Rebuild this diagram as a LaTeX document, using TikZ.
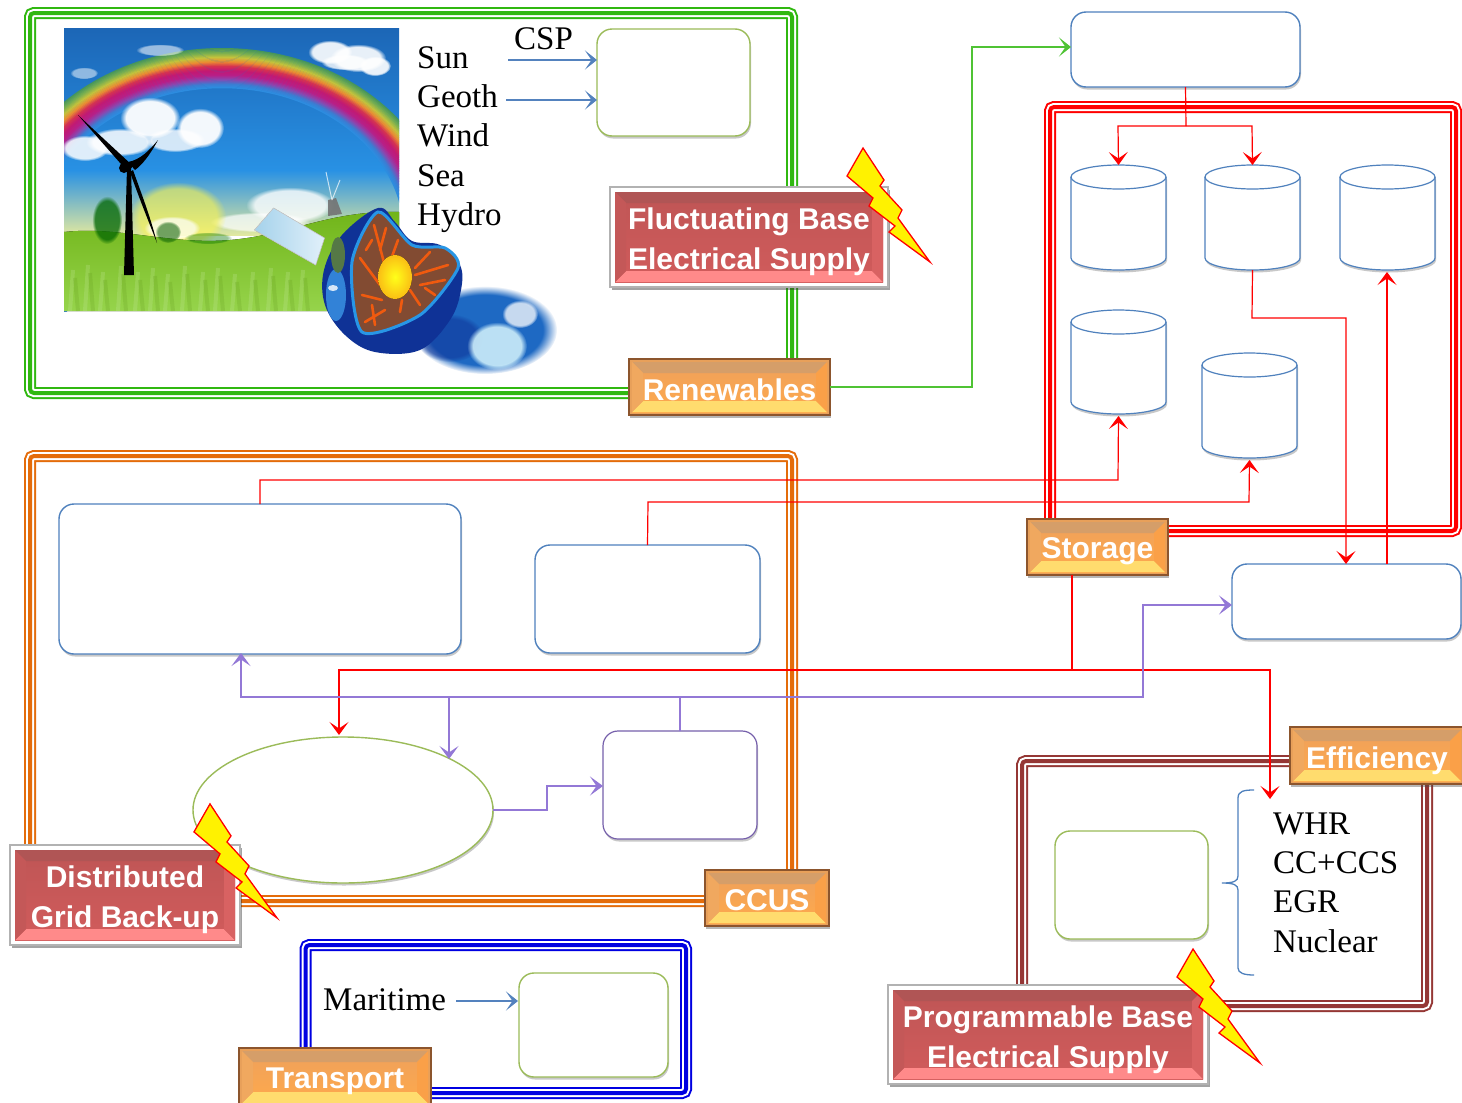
\documentclass[tikz,border=0pt]{standalone}
\usepackage{fontspec}
\setmainfont{Liberation Serif}
\newfontfamily\lblfont{Liberation Sans}[BoldFont={Liberation Sans Bold}]
\usetikzlibrary{arrows.meta,shadows,shapes.geometric,calc,fadings}
\definecolor{cblue}{RGB}{79,129,189}
\definecolor{cgreen}{RGB}{155,187,89}
\definecolor{cpurple}{RGB}{147,120,214}
\definecolor{cbrown}{RGB}{149,55,53}
\definecolor{corange}{RGB}{228,108,10}
\definecolor{cgrn}{RGB}{48,184,16}
\definecolor{cfrblue}{RGB}{0,0,225}
\definecolor{lnblue}{RGB}{84,130,190}
\definecolor{rda}{RGB}{190,85,85}
\definecolor{rdb}{RGB}{210,92,92}
\definecolor{rdc}{RGB}{255,138,138}
\definecolor{rdd}{RGB}{176,85,85}
\definecolor{rde}{RGB}{196,88,88}
\definecolor{rdf}{RGB}{216,98,98}
\definecolor{ora}{RGB}{140,85,45}
\definecolor{orb}{RGB}{232,160,90}
\definecolor{orc}{RGB}{238,160,92}
\definecolor{ord}{RGB}{255,170,75}
\definecolor{ore}{RGB}{255,220,110}
\definecolor{orf}{RGB}{213,158,105}
\definecolor{org}{RGB}{240,168,95}
\definecolor{orh}{RGB}{250,160,72}
\definecolor{skya}{RGB}{28,102,182}
\definecolor{skyb}{RGB}{40,145,228}
\definecolor{skyc}{RGB}{225,232,160}
\definecolor{hila}{RGB}{112,180,25}
\definecolor{hilb}{RGB}{150,212,75}
\definecolor{wva}{RGB}{30,105,195}
\definecolor{wvb}{RGB}{205,238,250}
\definecolor{wvc}{RGB}{60,150,225}
\definecolor{pna}{RGB}{165,210,235}
\definecolor{pnb}{RGB}{225,240,250}
\definecolor{eaa}{RGB}{15,50,150}
\definecolor{eab}{RGB}{50,130,215}
\definecolor{eac}{RGB}{85,120,70}
\definecolor{ead}{RGB}{40,150,230}
\definecolor{eae}{RGB}{130,75,50}
\definecolor{eaf}{RGB}{240,90,15}
\definecolor{eag}{RGB}{250,190,20}
\definecolor{rba}{RGB}{70,150,90}
\definecolor{rbb}{RGB}{120,175,80}
\definecolor{rbc}{RGB}{195,195,60}
\definecolor{rbd}{RGB}{235,140,50}
\definecolor{rbe}{RGB}{215,50,80}
\definecolor{rbf}{RGB}{195,25,115}
\definecolor{rbg}{RGB}{185,30,135}
\definecolor{rbh}{RGB}{140,70,175}
\definecolor{rbi}{RGB}{60,125,210}
\tikzset{
 shd/.style={drop shadow={shadow xshift=1pt,shadow yshift=-2.5pt,opacity=.3,fill=black!70}},
 bbox/.style={draw=cblue,fill=white,line width=1.4pt,rounded corners=15pt,shd},
 gbox/.style={draw=cgreen,fill=white,line width=1.4pt,rounded corners=15pt,shd},
 pbox/.style={draw=cpurple!80!black,fill=white,line width=1.2pt,rounded corners=15pt,shd},
 drumline/.style={draw=cblue,line width=1.2pt},
 anchorbox/.style={},
 redtip/.style={-{Stealth[length=13pt,width=19pt,inset=6.5pt]}},
 redln/.style={draw=red,line width=1.2pt,line join=miter},
 purln/.style={draw=cpurple,line width=1.3pt},
 bluln/.style={draw=lnblue,line width=1.5pt,-{Stealth[length=12pt,width=19pt,inset=6.5pt]}},
 grnln/.style={draw=cgrn!85!white,line width=1.3pt,-{Stealth[length=12pt,width=19pt,inset=6.5pt]}},
 purtip/.style={-{Stealth[length=13pt,width=19pt,inset=6.5pt]}},
 txt/.style={anchor=base west,inner sep=0pt,font=\fontsize{33}{40}\selectfont},
 lbl/.style={text=white,align=center,font=\lblfont\bfseries\fontsize{30}{40}\selectfont},
 redlabel/.style={lbl,draw=gray!60,line width=1.5pt,fill=white,
  drop shadow={shadow xshift=1.5pt,shadow yshift=-2.5pt,opacity=.45,fill=black!80},
  path picture={
   \fill[top color=rda,bottom color=rdb]
     ([xshift=5pt,yshift=-5pt]path picture bounding box.north west) rectangle ([xshift=-5pt,yshift=5pt]path picture bounding box.south east);
   \fill[rdc]
     ([xshift=5pt,yshift=5pt]path picture bounding box.south west) -- ([xshift=-5pt,yshift=5pt]path picture bounding box.south east) -- ([xshift=-16pt,yshift=16pt]path picture bounding box.south east) -- ([xshift=16pt,yshift=16pt]path picture bounding box.south west) -- cycle;
   \fill[rdd]
     ([xshift=5pt,yshift=-5pt]path picture bounding box.north west) -- ([xshift=-5pt,yshift=-5pt]path picture bounding box.north east) -- ([xshift=-16pt,yshift=-16pt]path picture bounding box.north east) -- ([xshift=16pt,yshift=-16pt]path picture bounding box.north west) -- cycle;
   \fill[rde]
     ([xshift=5pt,yshift=-5pt]path picture bounding box.north west) -- ([xshift=16pt,yshift=-16pt]path picture bounding box.north west) -- ([xshift=16pt,yshift=16pt]path picture bounding box.south west) -- ([xshift=5pt,yshift=5pt]path picture bounding box.south west) -- cycle;
   \fill[rdf]
     ([xshift=-5pt,yshift=-5pt]path picture bounding box.north east) -- ([xshift=-16pt,yshift=-16pt]path picture bounding box.north east) -- ([xshift=-16pt,yshift=16pt]path picture bounding box.south east) -- ([xshift=-5pt,yshift=5pt]path picture bounding box.south east) -- cycle;
   \draw[gray!70!black,line width=2pt] (path picture bounding box.north east) -- (path picture bounding box.south east);
  }},
 orangelabel/.style={lbl,draw=ora,line width=1.5pt,fill=orb,
  drop shadow={shadow xshift=1pt,shadow yshift=-2.5pt,opacity=.4,fill=black!70},
  path picture={
   \fill[top color=orc,bottom color=ord]
     ([xshift=3pt,yshift=-3pt]path picture bounding box.north west) rectangle ([xshift=-3pt,yshift=3pt]path picture bounding box.south east);
   \fill[ore]
     ([xshift=3pt,yshift=3pt]path picture bounding box.south west) -- ([xshift=-3pt,yshift=3pt]path picture bounding box.south east) -- ([xshift=-14pt,yshift=14pt]path picture bounding box.south east) -- ([xshift=14pt,yshift=14pt]path picture bounding box.south west) -- cycle;
   \fill[orf]
     ([xshift=3pt,yshift=-3pt]path picture bounding box.north west) -- ([xshift=-3pt,yshift=-3pt]path picture bounding box.north east) -- ([xshift=-14pt,yshift=-14pt]path picture bounding box.north east) -- ([xshift=14pt,yshift=-14pt]path picture bounding box.north west) -- cycle;
   \fill[org]
     ([xshift=3pt,yshift=-3pt]path picture bounding box.north west) -- ([xshift=14pt,yshift=-14pt]path picture bounding box.north west) -- ([xshift=14pt,yshift=14pt]path picture bounding box.south west) -- ([xshift=3pt,yshift=3pt]path picture bounding box.south west) -- cycle;
   \fill[orh]
     ([xshift=-3pt,yshift=-3pt]path picture bounding box.north east) -- ([xshift=-14pt,yshift=-14pt]path picture bounding box.north east) -- ([xshift=-14pt,yshift=14pt]path picture bounding box.south east) -- ([xshift=-3pt,yshift=3pt]path picture bounding box.south east) -- cycle;
  }},
 pics/zap/.style={code={
   \filldraw[fill=yellow,draw=red,line width=1.3pt,line join=miter]
    (0,0) -- (21,32) -- (17,38) -- (39,62) -- (35,70) -- (67,114) -- (26,84) -- (32,78) -- (6,58) -- (10,50) -- (-16,28) -- cycle;
 }},
}
\newcommand\bx[7]{%
 \pgfmathsetmacro\mycx{(#2+#4)/2}\pgfmathsetmacro\mycy{(#3+#5)/2}%
 \pgfmathsetmacro\mybw{#4-#2}\pgfmathsetmacro\mybh{#5-#3}%
 \node[#6,minimum width=\mybw pt,minimum height=\mybh pt,inner sep=0pt,outer sep=0pt] (#1) at (\mycx,\mycy) {#7};}
\newcommand\triframe[5]{%
 \draw[#5,line width=12pt,rounded corners=4pt] (#1,#2) rectangle (#3,#4);
 \draw[white,line width=8pt,rounded corners=4pt] (#1,#2) rectangle (#3,#4);
 \draw[#5,line width=4pt,rounded corners=4pt] (#1,#2) rectangle (#3,#4);}
\newcommand\drum[4]{%
 \pgfmathsetmacro\dra{#2+95}\pgfmathsetmacro\drb{#3+12}\pgfmathsetmacro\drc{#4-12}%
 \draw[drumline,fill=white,shd] (#2,\drb) arc[start angle=180,end angle=0,x radius=47.5pt,y radius=12pt] -- (\dra,\drc) arc[start angle=0,end angle=-180,x radius=47.5pt,y radius=12pt] -- cycle;
 \draw[drumline] (#2,\drb) arc[start angle=180,end angle=360,x radius=47.5pt,y radius=12pt];
 \bx{#1}{#2}{#3}{\dra}{#4}{anchorbox}{}}
\newcommand\cloud[5]{\fill[white,opacity=#5,path fading=circle with fuzzy edge 20 percent] (#1,#2) ellipse [x radius=#3pt,y radius=#4pt];}
\newcommand\lowone[2][-3pt]{\raisebox{#1}[\height][\depth]{#2}}
\newcommand\lowtwo[2]{\raisebox{-4.5pt}[\height][\depth]{\begin{tabular}{@{}c@{}}#1\\#2\end{tabular}}}
\begin{document}
\begin{tikzpicture}[x=1pt,y=-1pt]
\useasboundingbox (0,0) rectangle (1462,1103);
\clip (0,0) rectangle (1462,1103);
\fill[white] (0,0) rectangle (1462,1103);
% frames
\triframe{30}{13}{792}{393}{cgrn}
\triframe{30}{456}{792}{901}{corange}
\triframe{1050}{107}{1456}{531}{red}
\triframe{1022}{761}{1427}{1006}{cbrown}
\triframe{305.5}{945}{686}{1093}{cfrblue}
% scene
\begin{scope}
\clip (64,28) rectangle (399,311);
\fill[top color=skya,bottom color=skyb] (64,28) rectangle (399,170);
\fill[top color=skyb,bottom color=skyc] (64,170) rectangle (399,235);
\foreach \i/\c/\d in {0/rba/rbb,1/rbb/rbc,2/rbc/rbd,3/rbd/rbe,4/rbe/rbf,5/rbf/rbg,6/rbg/rbh,7/rbh/rbi,8/rbi/skyb}{
 \foreach \j in {0,1,2,3}{
 \pgfmathsetmacro\p{100-25*\j}
 \pgfmathsetmacro\rxa{225-(\i+\j/4)*4.78}\pgfmathsetmacro\rya{187-(\i+\j/4)*4.44}
 \pgfmathsetmacro\rxb{225-(\i+\j/4+.25)*4.78-.3}\pgfmathsetmacro\ryb{187-(\i+\j/4+.25)*4.44-.3}
 \fill[color=\c!\p!\d,even odd rule] (222,235) ellipse [x radius=\rxa pt,y radius=\rya pt] (222,235) ellipse [x radius=\rxb pt,y radius=\ryb pt];
}}
% clouds
\cloud{330}{52}{22}{12}{.9}\cloud{358}{58}{28}{14}{.9}\cloud{375}{66}{16}{10}{.9}\cloud{345}{62}{24}{8}{.8}
\cloud{160}{50}{24}{6}{.55}\cloud{84}{73}{14}{6}{.5}
\cloud{200}{128}{24}{20}{.95}\cloud{150}{118}{30}{21}{.95}\cloud{175}{140}{30}{12}{.8}\cloud{120}{142}{34}{14}{.85}\cloud{85}{148}{24}{13}{.85}
\cloud{290}{205}{44}{18}{.8}\cloud{260}{222}{50}{10}{.7}
\fill[yellow!70!white,path fading=circle with fuzzy edge 20 percent,opacity=.6] (178,216) ellipse [x radius=48pt,y radius=34pt];
\cloud{172}{228}{28}{12}{.7}
% windmill
\fill[black!55,opacity=.9] (328,200) -- (336,198) -- (342,214) -- (328,216) -- cycle;
\draw[white,opacity=.7,line width=1pt] (332,200) -- (326,172) (332,200) -- (340,180);
% hills
\fill[top color=hila,bottom color=hilb] (64,232) .. controls (120,226) and (170,245) .. (230,240) .. controls (290,235) and (330,210) .. (399,212) -- (399,311) -- (64,311) -- cycle;
% grass blades
\foreach \a/\b in {70/270,85/265,100/272,118/266,135/272,150/268,165/274,182/266,200/272,215/268,232/274,250/272,268/268,285/272,300/270}{
 \draw[white!50!hilb,line width=4pt,opacity=.22] (\a,311) -- (\a+3,\b);
 \draw[hila!80!black,line width=4pt,opacity=.18] (\a+8,311) -- (\a+5,\b+8);
}
% trees
\fill[green!40!black,opacity=.75,path fading=circle with fuzzy edge 20 percent] (107,220) ellipse [x radius=15pt,y radius=24pt];
\fill[green!35!black,opacity=.55,path fading=circle with fuzzy edge 20 percent] (168,232) ellipse [x radius=13pt,y radius=11pt];
\fill[green!45!black,opacity=.4,path fading=circle with fuzzy edge 20 percent] (208,238) ellipse [x radius=24pt,y radius=6pt];
% turbine
\fill[black] (124,275) -- (134,275) -- (131,168) -- (127,168) -- cycle;
\fill[black] (124,168) circle (5pt);
\fill[black] (133,166) -- (78,115) -- (128,172) -- cycle;
\fill[black] (128,162) .. controls (140,160) and (150,150) .. (158,140) .. controls (150,155) and (142,165) .. (135,170) -- cycle;
\fill[black] (133,170) .. controls (140,190) and (150,215) .. (157,243) .. controls (148,220) and (138,195) .. (130,172) -- cycle;
\end{scope}
% wave
\fill[color=wva,path fading=circle with fuzzy edge 20 percent] (485,330) ellipse [x radius=72pt,y radius=44pt];
\fill[color=eaa,opacity=.55,path fading=circle with fuzzy edge 20 percent] (450,338) ellipse [x radius=34pt,y radius=24pt];
\fill[color=wvb,opacity=.9,path fading=circle with fuzzy edge 20 percent] (497,346) ellipse [x radius=30pt,y radius=24pt];
\cloud{520}{314}{18}{14}{.75}
% panel
\filldraw[draw=gray!40,line width=.6pt,left color=pna,right color=pnb] (254.5,230) -- (273.6,208) -- (324.5,238) -- (315.7,265) -- cycle;
% earth
\fill[color=eaa] plot[smooth cycle,tension=.6] coordinates {(378,208) (342,235) (324,270) (325,305) (345,335) (375,352) (420,350) (450,320) (461,290) (460,265) (440,245) (412,241) (395,222)};
\fill[color=eab] (336,295) ellipse [x radius=10pt,y radius=26pt];
\fill[color=eac] (338,255) ellipse [x radius=7pt,y radius=18pt];
\fill[white,opacity=.8] (333,288) ellipse [x radius=5pt,y radius=3pt];
\filldraw[draw=ead,line width=3pt,fill=eae] plot[smooth cycle,tension=.45] coordinates {(378,212) (352,262) (362,332) (420,315) (458,268) (445,248) (412,245)};
\draw[color=eaf,line width=2.6pt,line cap=round] (374,225) -- (386,270) (386,228) -- (380,250) (398,240) -- (390,262) (360,258) -- (380,285) (372,240) -- (366,250) (362,295) -- (382,300) (365,322) -- (385,310) (375,325) -- (372,305) (400,312) -- (402,300) (420,305) -- (410,290) (448,265) -- (415,275) (430,252) -- (415,268) (445,280) -- (420,285) (435,295) -- (425,288);
\fill[inner color=yellow!90!white,outer color=eag] (395,277) ellipse [x radius=17pt,y radius=22pt];
% texts
\node[txt] (tcsp) at (514,49) {CSP};
\node[txt] (tsun) at (417,68) {Sun};
\node[txt] (tgeo) at (417,107) {Geoth};
\node[txt] (twind) at (417,146) {Wind};
\node[txt] (tsea) at (417,186) {Sea};
\node[txt] (thyd) at (417,225) {Hydro};
\node[txt] (twhr) at (1273,834) {WHR};
\node[txt] (tcc) at (1273,873) {CC+CCS};
\node[txt] (tegr) at (1273,912) {EGR};
\node[txt] (tnuc) at (1273,952) {Nuclear};
\node[txt] (tmar) at (323,1010) {Maritime};
% boxes
\bx{top}{1071}{12}{1300}{87}{bbox}{}
\bx{gone}{597}{29}{750}{136}{gbox}{}
\bx{gtwo}{1055}{831}{1208}{939}{gbox}{}
\bx{gthree}{519}{973}{668}{1077}{gbox}{}
\bx{bigL}{59}{504}{461}{654}{bbox}{}
\bx{midL}{535}{545}{760}{653}{bbox}{}
\bx{rbox}{1232}{564}{1461}{639}{bbox}{}
\bx{small}{603}{731}{757}{839}{pbox}{}
\node[ellipse,draw=cgreen,fill=white,line width=1.4pt,minimum width=300pt,minimum height=146pt,inner sep=0pt,outer sep=0pt,shd] (ell) at (343,810) {};
\drum{ca}{1071}{165}{270}
\drum{cb}{1205}{165}{270}
\drum{cc}{1340}{165}{270}
\drum{cd}{1071}{310}{414}
\drum{ce}{1202}{353}{458}
% labels
\bx{lren}{629}{359}{830}{415}{orangelabel}{\lowone{Renewables}}
\bx{lsto}{1027}{519}{1168}{575}{orangelabel}{\lowone[-4pt]{Storage}}
\bx{leff}{1290}{727}{1464}{784}{orangelabel}{\lowone[-5pt]{Efficiency}}
\bx{lccus}{705}{870}{829}{926}{orangelabel}{\lowone[-2pt]{CCUS}}
\bx{ltra}{239}{1048}{431}{1106}{orangelabel}{\lowone[-4pt]{Transport}}
\bx{lflu}{610}{187}{888}{287}{redlabel}{\lowtwo{Fluctuating Base}{Electrical Supply}}
\bx{ldis}{10}{845}{240}{945}{redlabel}{\lowtwo{Distributed}{Grid Back-up}}
\bx{lpro}{888}{985}{1208}{1084}{redlabel}{\lowtwo{Programmable Base}{Electrical Supply}}
% connector coordinates
\coordinate (sa) at (508,60); \coordinate (ga) at (597,60);
\coordinate (sb) at (506,100); \coordinate (gb) at (597,100);
\coordinate (sc) at (456,1001); \coordinate (gc) at (518,1001);
\coordinate (jr) at (1186,126);
\coordinate (jp) at (680,697);
\coordinate (js) at (1072,670);
\coordinate (wh) at (1270,799);
\coordinate (ep) at (449,759);
\coordinate (et) at (339,735);
% blue arrows
\draw[bluln] (sa) -- (ga);
\draw[bluln] (sb) -- (gb);
\draw[bluln] (sc) -- (gc);
% green
\draw[grnln] (lren.east) -- (972,387) -- (972,47) -- (top.west |- 0,47);
% red
\draw[redln] (top.south) -- (jr);
\draw[redln,redtip] (jr) -- (1118,126) -- (ca.north |- 0,165);
\draw[redln,redtip] (jr) -- (1252,126) -- (cb.north |- 0,165);
\draw[redln,redtip] (cb.south) -- (1252,318) -- (1346,318) -- (1346,564);
\draw[redln,redtip] ([xshift=40.5pt]rbox.north) -- ([xshift=-.5pt,yshift=-2pt]cc.south);
\draw[redln,redtip] (bigL.north) -- (260,480) -- (1118,480) -- ([yshift=-2pt]cd.south);
\draw[redln,redtip] (midL.north) -- (648,502) -- (1249,502) -- ([yshift=-2pt]ce.south);
\draw[redln] ([xshift=-25.5pt]lsto.south) -- (js);
\draw[redln,redtip] (js) -- (339,670) -- (et);
\draw[redln,redtip] (js) -- (1270,670) -- (wh);
% purple
\draw[purln] (small.north) -- (jp);
\draw[purln,purtip] (jp) -- (241,697) -- ([xshift=-19pt,yshift=1pt]bigL.south);
\draw[purln,purtip] (449,697) -- (ep);
\draw[purln,purtip] (jp) -- (1143,697) -- (1143,605) -- (rbox.west |- 0,605);
\draw[purln,purtip] (ell.east) -- (547,810) -- (547,786) -- (small.west |- 0,786);
% brace
\draw[draw=cblue,line width=1.3pt] (1254,790) .. controls (1244,790) and (1238,791) .. (1238,798) -- (1238,876) .. controls (1238,881) and (1234,883) .. (1222,883) .. controls (1234,883) and (1238,885) .. (1238,890) -- (1238,968) .. controls (1238,973) and (1244,975) .. (1254,975);
% bolts
\pic at (863,148) {zap};
\begin{scope}[yscale=1.04]
\pic at (210,773) {zap};
\end{scope}
\pic at (1193,949) {zap};
\end{tikzpicture}
\end{document}
